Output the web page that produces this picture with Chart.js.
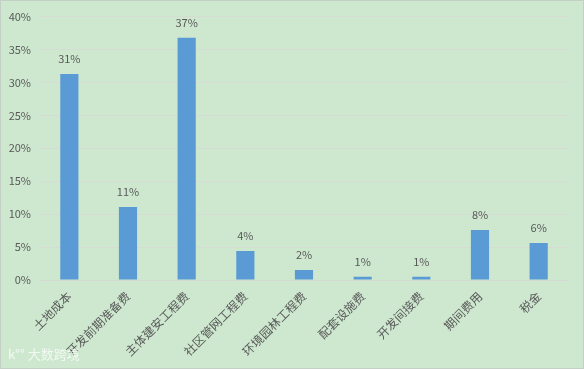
<!DOCTYPE html>
<html>
<head>
<meta charset="utf-8">
<script src="https://cdn.jsdelivr.net/npm/chart.js@4/dist/chart.umd.min.js"></script>
<style>
  html, body { margin: 0; padding: 0; background: #cde8cf; }
  #wrap { width: 584px; height: 369px; box-sizing: border-box; border: 1px solid #c4cfc6; background: #cde8cf; }
  canvas { display: block; }
</style>
</head>
<body>
<div id="wrap"><canvas id="costChart" width="582" height="367"></canvas></div>
<script>
// cost breakdown (percent)
const categories = ['土地成本', '开发前期准备费', '主体建安工程费', '社区管网工程费', '环境园林工程费', '配套设施费', '开发间接费', '期间费用', '税金'];
const shares = [31.3, 11.1, 36.8, 4.4, 1.5, 0.5, 0.5, 7.6, 5.6];
const yTicks = [0, 5, 10, 15, 20, 25, 30, 35, 40];

const textColor = '#595959';
const fontFamily = '"Noto Sans CJK SC", "Noto Sans", sans-serif';

// value labels above bars
const barLabels = {
  id: 'barLabels',
  afterDatasetsDraw(chart) {
    const ctx = chart.ctx;
    const meta = chart.getDatasetMeta(0);
    ctx.save();
    ctx.fillStyle = textColor;
    ctx.font = '11px ' + fontFamily;
    ctx.textAlign = 'center';
    ctx.textBaseline = 'middle';
    meta.data.forEach((bar, i) => {
      ctx.fillText(Math.round(shares[i]) + '%', bar.x, bar.y - 15);
    });
    ctx.restore();
  }
};

// faint watermark bottom-left
const watermark = {
  id: 'watermark',
  afterDraw(chart) {
    const ctx = chart.ctx;
    ctx.save();
    ctx.fillStyle = 'rgba(255,255,255,0.75)';
    ctx.font = '13px ' + fontFamily;
    ctx.textBaseline = 'middle';
    ctx.fillText('k°° 大数跨境', 7, 353);
    ctx.restore();
  }
};

const costCtx = document.getElementById('costChart');
new Chart(costCtx, {
  type: 'bar',
  data: {
    labels: categories,
    datasets: [{
      data: shares,
      backgroundColor: '#5b9bd5',
      categoryPercentage: 1,
      barPercentage: 0.31
    }]
  },
  options: {
    responsive: false,
    animation: false,
    layout: { padding: { top: 14, right: 15, left: 0, bottom: 0 } },
    plugins: {
      legend: { display: false },
      tooltip: { enabled: false }
    },
    scales: {
      x: {
        grid: { display: false, drawTicks: false },
        border: { color: '#d4d9d4' },
        ticks: {
          color: textColor,
          font: { size: 12, family: fontFamily },
          maxRotation: 45,
          minRotation: 45,
          padding: 9,
          autoSkip: false
        },
        afterFit(scale) { scale.height = 88; }
      },
      y: {
        min: 0,
        max: 40,
        afterBuildTicks(scale) { scale.ticks = yTicks.map(v => ({ value: v })); },
        grid: { color: '#d4dcd4', drawTicks: false },
        border: { display: false },
        ticks: {
          color: textColor,
          font: { size: 11, family: fontFamily },
          padding: 9,
          callback: v => v + '%'
        },
        afterFit(scale) { scale.width = 39; }
      }
    }
  },
  plugins: [barLabels, watermark]
});
</script>
</body>
</html>
